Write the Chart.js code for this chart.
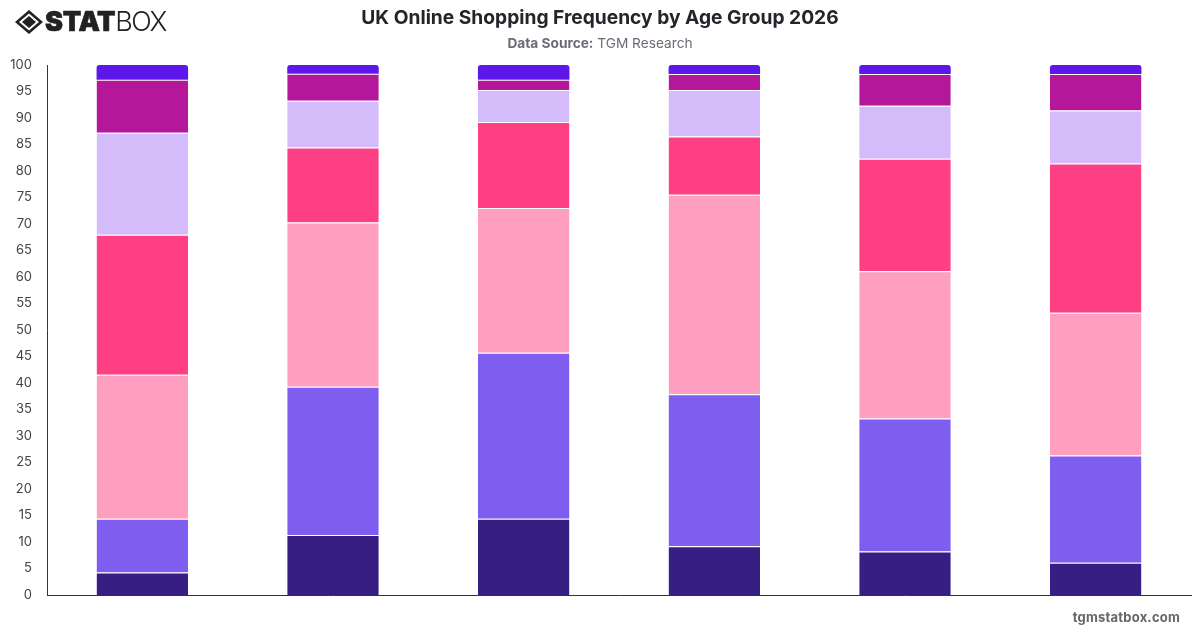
<!DOCTYPE html>
<html>
<head>
<meta charset="utf-8">
<title>UK Online Shopping Frequency by Age Group 2026</title>
<script src="https://cdn.jsdelivr.net/npm/chart.js@4"></script>
<style>
  html, body { margin: 0; padding: 0; background: #fff; }
  body { width: 1200px; height: 628px; position: relative; overflow: hidden; font-family: Inter, sans-serif; }
  #grafico { position: absolute; left: 0; top: 0; }
  .titulo { position: absolute; left: 0; width: 1200px; top: 5px; text-align: center; font-size: 19.2px; line-height: 24px; font-weight: 700; color: #24242a; }
  .fonte { position: absolute; left: 0; width: 1200px; top: 35px; text-align: center; font-size: 13.7px; line-height: 17px; color: #6b6b76; }
  .fonte b { font-weight: 700; }
  .site { position: absolute; right: 20px; top: 609px; font-size: 13px; line-height: 16px; font-weight: 700; color: #666; letter-spacing: 0.2px; }
  .logo { position: absolute; left: 15px; top: 8px; height: 28px; display: flex; align-items: center; color: #222; }
  .logo svg { margin-right: 2px; }
  .logo b { font: 900 27px/28px Inter, sans-serif; letter-spacing: -0.3px; -webkit-text-stroke: 0.6px #222; }
  .logo span { font: 300 27px/28px Inter, sans-serif; letter-spacing: -1.6px; }
</style>
</head>
<body>
<canvas id="grafico" width="1200" height="628"></canvas>
<div class="titulo">UK Online Shopping Frequency by Age Group 2026</div>
<div class="fonte"><b>Data Source:</b> TGM Research</div>
<div class="logo">
  <svg width="28" height="24" viewBox="0 0 28 24">
    <path d="M14 0 L28 12 L14 24 L0 12 Z M14 3.5 L4 12 L14 20.5 L24 12 Z" fill="#222" fill-rule="evenodd"/>
    <path d="M14 6 L21 12 L14 18 L7 12 Z" fill="#222"/>
  </svg>
  <b>STAT</b><span>BOX</span>
</div>
<div class="site">tgmstatbox.com</div>
<script>
const grupos = ['16-24', '25-34', '35-44', '45-54', '55-64', '65+'];
const nomes = ['Serie 1', 'Serie 2', 'Serie 3', 'Serie 4', 'Serie 5', 'Serie 6', 'Serie 7'];
const serie1 = [4.25, 11.3, 14.4, 9.2, 8.2, 6.1];
const serie2 = [10.15, 28, 31.3, 28.7, 25.1, 20.2];
const serie3 = [27.15, 31, 27.3, 37.6, 27.8, 26.95];
const serie4 = [26.4, 14.15, 16.25, 11, 21.2, 28.15];
const serie5 = [19.25, 8.8, 6.05, 8.8, 10, 10];
const serie6 = [10, 5.1, 1.9, 3, 6, 6.9];
const serie7 = [2.8, 1.65, 2.8, 1.7, 1.7, 1.7];
const valores = [serie1, serie2, serie3, serie4, serie5, serie6, serie7];
const cores = ['#371e83', '#7e5def', '#ff9fc0', '#ff3f84', '#d4bbfa', '#b4179a', '#5e17eb'];

const ultima = valores.length - 1;
const datasets = valores.map((v, i) => ({
  label: nomes[i],
  data: v,
  backgroundColor: cores[i],
  borderColor: '#ffffff',
  // linha branca entre os segmentos, e cantos arredondados so no topo
  borderWidth: i === ultima ? 0 : { top: 1 },
  borderSkipped: false,
  borderRadius: i === ultima ? { topLeft: 3, topRight: 3 } : 0,
  barPercentage: 0.8,
  categoryPercentage: 0.6
}));

new Chart(document.getElementById('grafico'), {
  type: 'bar',
  data: { labels: grupos, datasets: datasets },
  options: {
    responsive: false,
    animation: false,
    layout: { padding: { top: 65, right: 9, bottom: 25, left: 0 } },
    plugins: {
      legend: { display: false },
      title: { display: false },
      tooltip: { enabled: false }
    },
    scales: {
      x: {
        stacked: true,
        grid: { display: false },
        border: { color: '#33333a', width: 1 },
        ticks: { display: false }
      },
      y: {
        stacked: true,
        min: 0,
        max: 100,
        afterFit: (escala) => { escala.width = 47; },
        grid: { display: false },
        border: { color: '#33333a', width: 1 },
        ticks: {
          stepSize: 5,
          autoSkip: false,
          color: '#444',
          padding: 7,
          font: { family: 'Inter', size: 13 }
        }
      }
    }
  }
});
</script>
</body>
</html>
